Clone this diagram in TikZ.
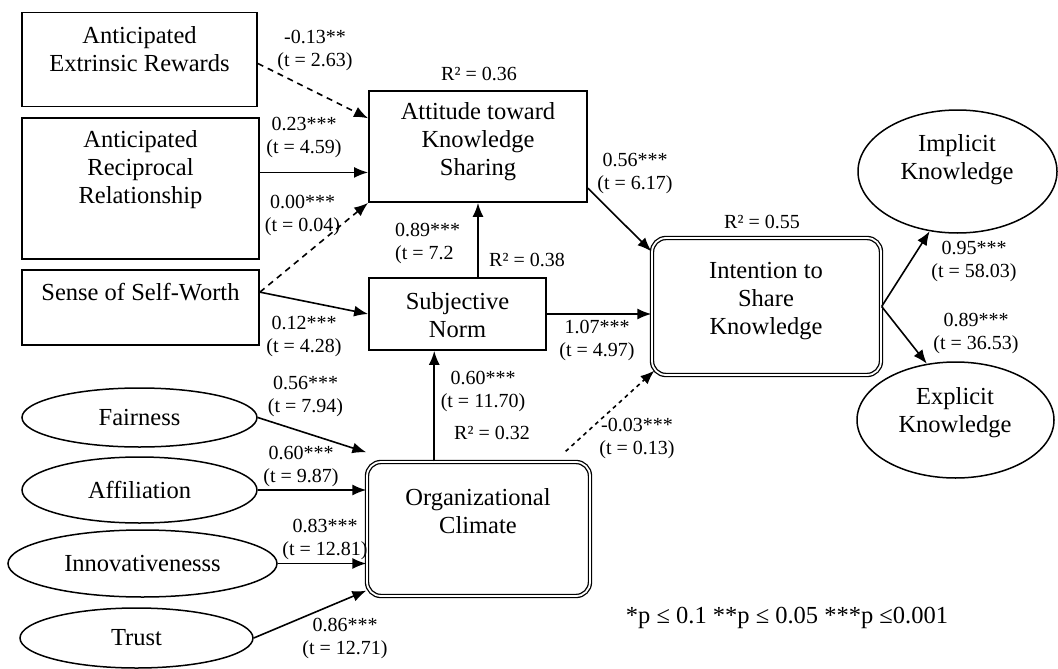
\documentclass[tikz,border=0pt]{standalone}
\usepackage{fontspec}
\setmainfont{Liberation Serif}
\usetikzlibrary{arrows.meta,calc,shapes.geometric}
\newcommand\mainfs{\fontsize{24.5}{28}\selectfont}
\newcommand\smallfs{\fontsize{20}{23}\selectfont}
\begin{document}
\begin{tikzpicture}[x=1pt,y=-1pt,
  box/.style={draw,line width=1.8pt,inner sep=0pt},
  dbox/.style={draw,line width=1.3pt,double,double distance=1.8pt,rounded corners=14pt,inner sep=0pt},
  oval/.style={draw,ellipse,line width=1.5pt,inner sep=0pt,font=\mainfs},
  big/.style={font=\mainfs,align=center,inner sep=0pt},
  small/.style={font=\smallfs,align=center,inner sep=0pt},
  arr/.style={-{Latex[length=14pt,width=11pt]},line width=1.6pt},
  dsh/.style={arr,dash pattern=on 6pt off 5pt},
  dsh2/.style={arr,dash pattern=on 4pt off 4pt}
]
\useasboundingbox (0,0) rectangle (1058,669);

% boxes
\node[box,minimum width=235pt,minimum height=94pt] (ext) at (139.5,59.5) {};
\node[big] (ext-t) at (139.5,49) {Anticipated\\Extrinsic Rewards};
\node[box,minimum width=237pt,minimum height=141pt] (rec) at (140.5,188.5) {};
\node[big] (rec-t) at (140.5,170) {Anticipated\\Reciprocal\\Relationship};
\node[box,minimum width=237pt,minimum height=75pt] (ssw) at (140.5,307.5) {};
\node[big] (ssw-t) at (140.5,292) {Sense of Self-Worth};
\node[box,minimum width=218pt,minimum height=111pt] (att) at (478,146.5) {};
\node[big] (att-t) at (478,142) {Attitude toward\\Knowledge\\Sharing};
\node[box,minimum width=177pt,minimum height=72pt] (sn) at (457.5,314) {};
\node[big] (sn-t) at (457.5,315) {Subjective\\Norm};
\node[dbox,minimum width=229pt,minimum height=137pt] (int) at (766.5,306.5) {};
\node[big] (int-t) at (766,301) {Intention to\\Share\\Knowledge};
\node[dbox,minimum width=223pt,minimum height=134pt] (oc) at (478.5,529) {};
\node[big] (oc-t) at (478,511) {Organizational\\Climate};

% ellipses
\node[oval,minimum width=199pt,minimum height=123pt] (imp) at (957.5,171.5) {};
\node[big] (imp-t) at (957,160) {Implicit\\Knowledge};
\node[oval,minimum width=197pt,minimum height=116pt] (exp) at (955.5,420) {};
\node[big] (exp-t) at (955,413) {Explicit\\Knowledge};
\node[oval,minimum width=235pt,minimum height=59pt] (fair) at (139.5,417.5) {Fairness};
\node[oval,minimum width=235pt,minimum height=66pt] (aff) at (139.5,490) {Affiliation};
\node[oval,minimum width=269pt,minimum height=67pt] (inn) at (142.5,563.5) {Innovativenesss};
\node[oval,minimum width=233pt,minimum height=60pt] (tru) at (136.5,638) {Trust};

% connectors
\coordinate (a1) at ($(att.north west)!0.25!(att.south west)$);
\draw[dsh] ([yshift=-4pt]ext.east) -- (a1);
\coordinate (a2) at ($(att.north west)!0.73!(att.south west)$);
\draw[arr] (rec.east |- a2) -- (a2);
\coordinate (s1) at ($(ssw.north east)!0.3!(ssw.south east)$);
\draw[dsh] (s1) -- (att.south west);
\draw[arr] (s1) -- (sn.west);
\draw[arr] (att.south |- sn.north) -- (att.south);
\coordinate (a3) at ($(att.north east)!0.87!(att.south east)$);
\draw[arr] (a3) -- ($(int.north west)+(0,14)$);
\draw[arr] (sn.east) -- (int.west |- sn.east);
\coordinate (o1) at ($(sn.south west)!0.37!(sn.south east)$);
\draw[arr] (o1 |- oc.north) -- (o1);
\draw[dsh2] ($(oc.north east)+(-25,-10)$) -- ($(int.south west)+(3,-5)$);
\draw[arr] (int.east) -- (imp.245);
\draw[arr] (int.east) -- (exp.117);
\draw[arr] (fair.east) -- ($(oc.north west)+(0,-9)$);
\draw[arr] (aff.east) -- (oc.west |- aff.east);
\draw[arr] (inn.east) -- (oc.west |- inn.east);
\draw[arr] (tru.east) -- ($(oc.south west)+(0,-6)$);

% labels
\node[small] (l1) at (315,50) {-0.13**\\(t = 2.63)};
\node[small] (l2) at (304,137.5) {0.23***\\(t = 4.59)};
\node[small] (l3) at (302.5,215.5) {0.00***\\(t = 0.04)};
\node[small] (l4) at (304,336) {0.12***\\(t = 4.28)};
\node[small,align=left,anchor=west] (l5) at (395,243.5) {0.89***\\(t = 7.2};
\node[small] (r38) at (527,260) {R² = 0.38};
\node[small] (r36) at (479,74) {R² = 0.36};
\node[small] (l6) at (635,173) {0.56***\\(t = 6.17)};
\node[small] (l7) at (597,340) {1.07***\\(t = 4.97)};
\node[small] (r55) at (762,222) {R² = 0.55};
\node[small] (l8) at (974,261.5) {0.95***\\(t = 58.03)};
\node[small] (l9) at (976,333.5) {0.89***\\(t = 36.53)};
\node[small] (l10) at (483,391) {0.60***\\(t = 11.70)};
\node[small] (r32) at (492,433) {R² = 0.32};
\node[small] (l11) at (637,438.5) {-0.03***\\(t = 0.13)};
\node[small] (l12) at (305.5,396.5) {0.56***\\(t = 7.94)};
\node[small] (l13) at (301,466.5) {0.60***\\(t = 9.87)};
\node[small] (l14) at (325,539) {0.83***\\(t = 12.81)};
\node[small] (l15) at (345,638) {0.86***\\(t = 12.71)};
\node[big] (legend) at (787,618) {*p ≤ 0.1 **p ≤ 0.05 ***p ≤0.001};
\end{tikzpicture}
\end{document}
